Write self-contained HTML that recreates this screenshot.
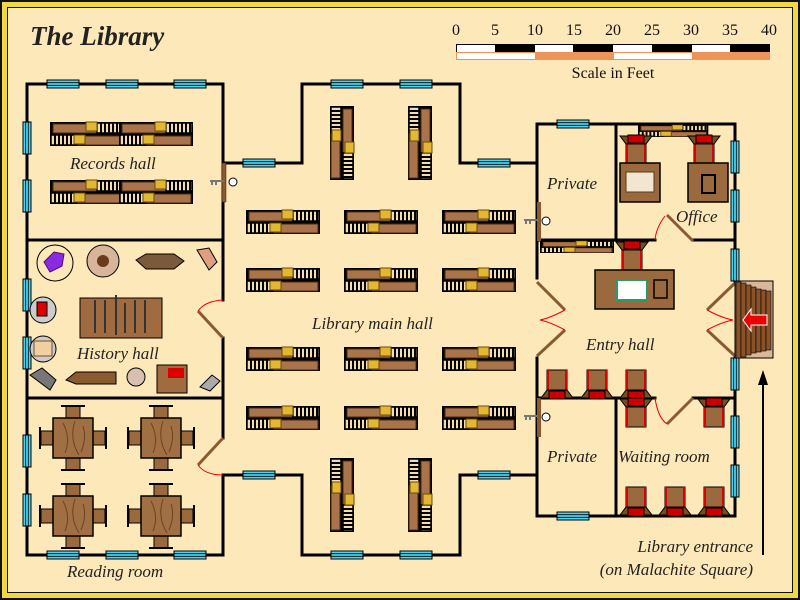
<!DOCTYPE html>
<html><head><meta charset="utf-8"><style>
html,body{margin:0;padding:0;background:#fde8b9;}
svg{display:block}
text{font-family:"Liberation Serif",serif;font-style:italic;fill:#222}
.t{font-style:normal;font-size:16px;fill:#111}
</style></head><body>
<svg width="800" height="600" viewBox="0 0 800 600" xmlns="http://www.w3.org/2000/svg">
<defs>
<g id="slat"><rect x="0" y="0" width="26" height="10" fill="#f3dcae" stroke="#000" stroke-width="1.5"/>
<path d="M4 0v10M8 0v10M12 0v10M16 0v10M20 0v10M24 0v10" stroke="#000" stroke-width="2"/></g>
<g id="shelf">
<rect x="0" y="0" width="74" height="24" fill="#000"/>
<rect x="3" y="2" width="44" height="9" fill="#a9744a" stroke="#4a2a10"/>
<use href="#slat" x="47" y="1"/>
<use href="#slat" x="1" y="13"/>
<rect x="28" y="14" width="44" height="9" fill="#a9744a" stroke="#4a2a10"/>
<rect x="36" y="0" width="11" height="9" fill="#e3b830" stroke="#6a4a10"/>
<rect x="24" y="13" width="11" height="9" fill="#e3b830" stroke="#6a4a10"/>
</g>
<g id="win"><rect x="0" y="0" width="32" height="8" fill="#4fd3f0" stroke="#000" stroke-width="1"/><path d="M0 2.7h32M0 5.3h32" stroke="#000" stroke-width=".8"/></g>
<g id="vwin"><rect x="0" y="0" width="8" height="32" fill="#4fd3f0" stroke="#000" stroke-width="1"/><path d="M2.7 0v32M5.3 0v32" stroke="#000" stroke-width=".8"/></g>
<g id="table">
<rect x="13" y="-12" width="14" height="14" fill="#9a6a3e" stroke="#000"/>
<rect x="13" y="38" width="14" height="14" fill="#9a6a3e" stroke="#000"/>
<rect x="-12" y="13" width="14" height="14" fill="#9a6a3e" stroke="#000"/>
<rect x="38" y="13" width="14" height="14" fill="#9a6a3e" stroke="#000"/>
<path d="M8 -12h24M8 52h24" stroke="#000" stroke-width="2"/>
<path d="M-13 9v22M53 9v22" stroke="#000" stroke-width="2"/>
<rect x="0" y="0" width="40" height="40" fill="#a16f44" stroke="#000" stroke-width="1.5"/>
<path d="M10 5q8 15 2 30M22 3q-6 18 4 34M30 8q4 12-2 26" stroke="#6b4420" fill="none"/>
</g>
<g id="chair">
<rect x="0" y="0" width="20" height="26" fill="#9a6a3e" stroke="#000"/>
<path d="M1 0v26M19 0v26" stroke="#d00" stroke-width="2"/>
<path d="M-6 28l6-8h20l6 8z" fill="#7a4a20" stroke="#000"/>
<rect x="2" y="21" width="16" height="8" fill="#c00" stroke="#000"/>
</g>
</defs>

<rect x="0" y="0" width="800" height="600" fill="#111"/>
<rect x="2" y="2" width="796" height="596" fill="#f2d840"/>
<rect x="7" y="7" width="786" height="586" fill="#111"/>
<rect x="8" y="8" width="784" height="584" fill="#fde8b9"/>

<text x="30" y="45" font-size="27" font-weight="bold" fill="#111">The Library</text>

<text class="t" x="456" y="35" text-anchor="middle">0</text>
<text class="t" x="495" y="35" text-anchor="middle">5</text>
<text class="t" x="535" y="35" text-anchor="middle">10</text>
<text class="t" x="574" y="35" text-anchor="middle">15</text>
<text class="t" x="613" y="35" text-anchor="middle">20</text>
<text class="t" x="652" y="35" text-anchor="middle">25</text>
<text class="t" x="691" y="35" text-anchor="middle">30</text>
<text class="t" x="730" y="35" text-anchor="middle">35</text>
<text class="t" x="769" y="35" text-anchor="middle">40</text>
<rect x="456" y="44" width="314" height="16" fill="#ee9458"/>
<rect x="456" y="44" width="314" height="8" fill="#000"/>
<rect x="457" y="45" width="38" height="7" fill="#fff"/>
<rect x="535" y="45" width="38" height="7" fill="#fff"/>
<rect x="613" y="45" width="39" height="7" fill="#fff"/>
<rect x="692" y="45" width="38" height="7" fill="#fff"/>
<rect x="457" y="53" width="78" height="6" fill="#fff"/>
<rect x="614" y="53" width="78" height="6" fill="#fff"/>
<text class="t" x="613" y="78" text-anchor="middle">Scale in Feet</text>

<g stroke="#000" stroke-width="3" fill="none" stroke-linecap="square">
<path d="M223 300V84H27V555H223V475"/>
<path d="M223 338V438"/>
<path d="M27 240H223M27 398H223"/>
<path d="M223 163H302V84H460V163H537"/>
<path d="M223 475H302V555H460V475H537"/>
<path d="M537 278V124H735V283M735 356V516H537V358"/>
<path d="M616 124V240M537 240H655M693 240H735"/>
<path d="M537 398H655M693 398H735M616 398V516"/>
</g>
<use href="#win" x="47" y="80"/><use href="#win" x="106" y="80"/><use href="#win" x="174" y="80"/>
<use href="#win" x="47" y="551"/><use href="#win" x="106" y="551"/><use href="#win" x="174" y="551"/>
<use href="#win" x="331" y="80"/><use href="#win" x="400" y="80"/>
<use href="#win" x="331" y="551"/><use href="#win" x="400" y="551"/>
<use href="#win" x="243" y="159"/><use href="#win" x="478" y="159"/>
<use href="#win" x="243" y="471"/><use href="#win" x="478" y="471"/>
<use href="#win" x="557" y="120"/><use href="#win" x="557" y="512"/>
<use href="#vwin" x="23" y="122"/><use href="#vwin" x="23" y="180"/><use href="#vwin" x="23" y="279"/>
<use href="#vwin" x="23" y="337"/><use href="#vwin" x="23" y="435"/><use href="#vwin" x="23" y="494"/>
<use href="#vwin" x="731" y="141"/><use href="#vwin" x="731" y="190"/><use href="#vwin" x="731" y="249"/>
<use href="#vwin" x="731" y="358"/><use href="#vwin" x="731" y="416"/><use href="#vwin" x="731" y="465"/>

<rect x="222" y="163" width="4" height="39" fill="#8a5a30" stroke="#3a2010" stroke-width=".5"/>
<rect x="537" y="202" width="4" height="39" fill="#8a5a30"/>
<rect x="537" y="398" width="4" height="39" fill="#8a5a30"/>
<g stroke="#000" fill="none" stroke-width="1"><path d="M210 181h14M212 181v4M216 181v4" stroke="#777" stroke-width="2"/><circle cx="233" cy="182" r="4" fill="#fff"/>
<path d="M524 220h14M526 220v4M530 220v4" stroke="#777" stroke-width="2"/><circle cx="546" cy="221" r="4" fill="#fff"/>
<path d="M524 416h14M526 416v4M530 416v4" stroke="#777" stroke-width="2"/><circle cx="546" cy="417" r="4" fill="#fff"/></g>
<g stroke="#8a5a30" stroke-width="3">
<path d="M223 338L198 311M223 438L198 465M537 282L565 310M537 356L565 330M735 283L707 310M735 356L707 330M667 215L693 241M667 424L693 398"/>
</g>
<g stroke="#e00" stroke-width="1" fill="none">
<path d="M198 311Q205 301 223 300M198 465Q205 475 223 475"/>
<path d="M565 310Q550 318 540 320M565 330Q550 322 540 320M707 310Q722 318 733 320M707 330Q722 322 733 320"/>
<path d="M665 216Q656 228 655 240M655 398Q658 418 667 424"/>
</g>
<rect x="735" y="281" width="38" height="77" fill="#d9b89a" stroke="#000"/>
<g fill="#8a5228" stroke="#000" stroke-width=".6">
<rect x="736" y="282" width="5" height="76"/><rect x="741" y="283" width="5" height="74"/><rect x="746" y="285" width="5" height="70"/><rect x="751" y="287" width="5" height="66"/><rect x="756" y="289" width="5" height="63"/><rect x="761" y="290" width="5" height="61"/><rect x="766" y="291" width="5" height="59"/>
</g>
<path d="M767 315h-16v-6l-8 11 8 11v-6h16z" fill="#e00" stroke="#fff"/>
<path d="M763 555V380" stroke="#000" stroke-width="2"/>
<path d="M758 385L763 370L768 385z" fill="#000"/>

<use href="#shelf" x="50" y="122"/><use href="#shelf" x="119" y="122"/>
<use href="#shelf" x="50" y="180"/><use href="#shelf" x="119" y="180"/>
<use href="#shelf" x="246" y="210"/><use href="#shelf" x="344" y="210"/><use href="#shelf" x="442" y="210"/>
<use href="#shelf" x="246" y="268"/><use href="#shelf" x="344" y="268"/><use href="#shelf" x="442" y="268"/>
<use href="#shelf" x="246" y="347"/><use href="#shelf" x="344" y="347"/><use href="#shelf" x="442" y="347"/>
<use href="#shelf" x="246" y="406"/><use href="#shelf" x="344" y="406"/><use href="#shelf" x="442" y="406"/>
<use href="#shelf" transform="translate(354 106) rotate(90)"/>
<use href="#shelf" transform="translate(432 106) rotate(90)"/>
<use href="#shelf" transform="translate(354 458) rotate(90)"/>
<use href="#shelf" transform="translate(432 458) rotate(90)"/>
<use href="#shelf" transform="translate(540 241) scale(1,0.5)"/>
<use href="#shelf" transform="translate(638 125) scale(0.95,0.5)"/>

<use href="#table" x="53" y="418"/><use href="#table" x="141" y="418"/>
<use href="#table" x="53" y="496"/><use href="#table" x="141" y="496"/>

<circle cx="55" cy="263" r="18" fill="#fde8b9" stroke="#000"/>
<path d="M44 262l10-10 10 2-2 12-12 6z" fill="#8a2be2" stroke="#4a0a80"/>
<circle cx="103" cy="261" r="16" fill="#d8b49a" stroke="#000"/><circle cx="103" cy="261" r="6" fill="#6b3a1a"/>
<path d="M136 260l10-6h28l10 7-10 8h-28z" fill="#7a5a3a" stroke="#000"/>
<path d="M197 250l12-2 8 14-8 8z" fill="#e0a080" stroke="#000"/>
<circle cx="43" cy="310" r="13" fill="#ccc" stroke="#000"/><rect x="37" y="302" width="10" height="14" fill="#d00" stroke="#000"/>
<circle cx="43" cy="349" r="13" fill="#ccc" stroke="#000"/><rect x="34" y="341" width="18" height="15" fill="#f0d0a0" stroke="#7a4a20"/>
<rect x="80" y="298" width="82" height="40" fill="#a06b40" stroke="#000"/>
<path d="M95 300v33M105 300v33M116 295v40M125 303v30M135 300v33M145 300v33" stroke="#333" stroke-width="2"/>
<path d="M30 375l12-7 14 12-6 10z" fill="#777" stroke="#000"/>
<path d="M66 380l10-8h40v12h-40z" fill="#8a5a30" stroke="#000"/>
<circle cx="136" cy="377" r="9" fill="#d8c0b0" stroke="#000"/>
<rect x="157" y="365" width="30" height="28" fill="#a06b40" stroke="#000"/><rect x="168" y="368" width="16" height="10" fill="#d00"/>
<path d="M200 387l12-12 8 6-10 10z" fill="#aaa" stroke="#000"/>

<use href="#chair" transform="translate(646 164) rotate(180)"/>
<use href="#chair" transform="translate(714 164) rotate(180)"/>
<rect x="620" y="163" width="40" height="39" fill="#9a6a3e" stroke="#000" stroke-width="1.5"/>
<rect x="626" y="172" width="28" height="20" fill="#f3e6d0" stroke="#5a3a1a"/>
<rect x="688" y="163" width="40" height="39" fill="#9a6a3e" stroke="#000" stroke-width="1.5"/>
<rect x="702" y="175" width="13" height="18" fill="#9a6a3e" stroke="#000" stroke-width="2"/>
<use href="#chair" transform="translate(642 270) rotate(180)"/>
<rect x="595" y="270" width="79" height="39" fill="#9a6a3e" stroke="#000" stroke-width="1.5"/>
<rect x="617" y="280" width="30" height="20" fill="#fff" stroke="#2a9a6a" stroke-width="2"/>
<rect x="654" y="280" width="13" height="18" fill="#9a6a3e" stroke="#000" stroke-width="1.5"/>
<use href="#chair" x="547" y="370"/><use href="#chair" x="587" y="370"/><use href="#chair" x="626" y="370"/>
<use href="#chair" transform="translate(646 427) rotate(180)"/>
<use href="#chair" transform="translate(724 427) rotate(180)"/>
<use href="#chair" x="626" y="487"/><use href="#chair" x="665" y="487"/><use href="#chair" x="704" y="487"/>

<g font-size="17">
<text x="70" y="169">Records hall</text>
<text x="77" y="359">History hall</text>
<text x="67" y="577">Reading room</text>
<text x="312" y="329">Library main hall</text>
<text x="547" y="189">Private</text>
<text x="676" y="222">Office</text>
<text x="586" y="350">Entry hall</text>
<text x="547" y="462">Private</text>
<text x="618" y="462">Waiting room</text>
<text x="753" y="552" text-anchor="end">Library entrance</text>
<text x="753" y="575" text-anchor="end">(on Malachite Square)</text>
</g>
</svg>
</body></html>
